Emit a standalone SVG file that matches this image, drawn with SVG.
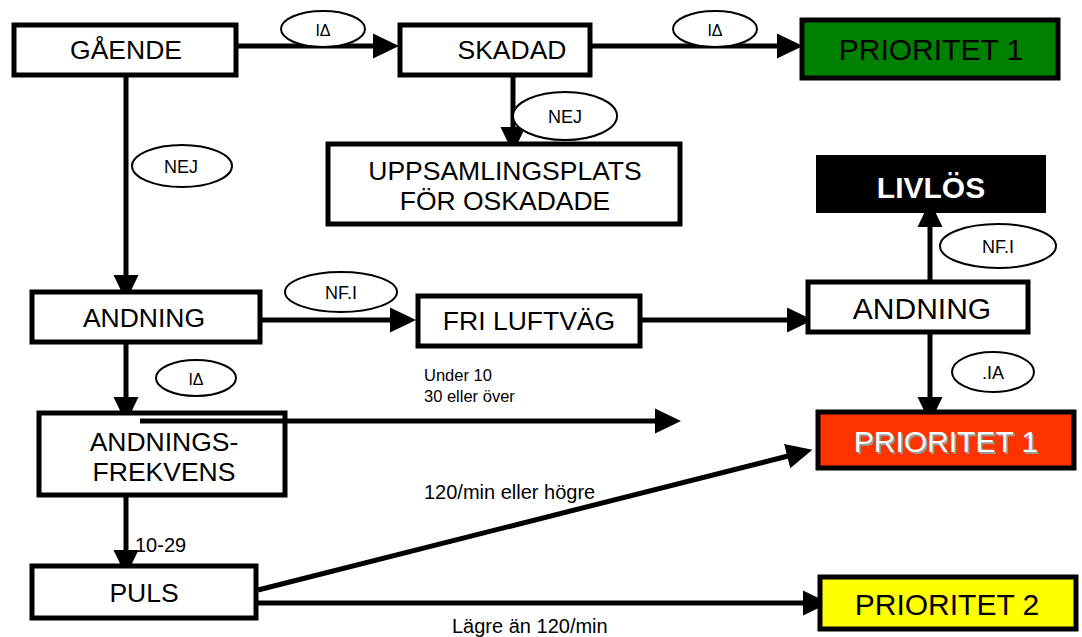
<svg xmlns="http://www.w3.org/2000/svg" width="1082" height="637" viewBox="0 0 1082 637">
<style>
.box{fill:#fff;stroke:#000;stroke-width:5}
.t{font-family:"Liberation Sans",Arial,sans-serif;font-size:26.5px;fill:#000;text-anchor:middle}
.p{font-size:30px}
.el{fill:#fff;stroke:#000;stroke-width:2}
.et{font-family:"Liberation Sans",Arial,sans-serif;font-size:18px;fill:#000;text-anchor:middle}
.lt{font-family:"Liberation Sans",Arial,sans-serif;font-size:16.5px;fill:#000}
.lb{font-family:"Liberation Sans",Arial,sans-serif;font-size:20px;fill:#000}
.c{stroke:#000;stroke-width:5;fill:none}
</style>
<defs>
<marker id="ah" markerWidth="6" markerHeight="6" refX="1" refY="3" orient="auto" markerUnits="strokeWidth"><path d="M0,0.5 L5.2,3 L0,5.5 z" fill="#000"/></marker>
</defs>
<g id="connectors">
<line class="c" x1="236" y1="46" x2="378" y2="46" marker-end="url(#ah)"/>
<line class="c" x1="590" y1="46" x2="782" y2="46" marker-end="url(#ah)"/>
<line class="c" x1="513" y1="75" x2="513" y2="132" marker-end="url(#ah)"/>
<line class="c" x1="126" y1="75" x2="126" y2="280" marker-end="url(#ah)"/>
<line class="c" x1="260" y1="320" x2="395" y2="320" marker-end="url(#ah)"/>
<line class="c" x1="640" y1="320" x2="792" y2="320" marker-end="url(#ah)"/>
<line class="c" x1="930" y1="280" x2="930" y2="222" marker-end="url(#ah)"/>
<line class="c" x1="930" y1="332" x2="930" y2="402" marker-end="url(#ah)"/>
<line class="c" x1="126" y1="342" x2="126" y2="402" marker-end="url(#ah)"/>
<line class="c" x1="126" y1="497" x2="126" y2="555" marker-end="url(#ah)"/>
<line class="c" x1="258" y1="590" x2="792" y2="455" marker-end="url(#ah)"/>
<line class="c" x1="258" y1="603" x2="808" y2="603" marker-end="url(#ah)"/>
<ellipse class="el" cx="323" cy="29" rx="42" ry="18"/>
<text class="et" x="323" y="36" style="font-size:16px">IΔ</text>
<ellipse class="el" cx="715" cy="29" rx="42" ry="18"/>
<text class="et" x="715" y="36" style="font-size:16px">IΔ</text>
<ellipse class="el" cx="565" cy="116" rx="52" ry="24"/>
<text class="et" x="565" y="123">NEJ</text>
<ellipse class="el" cx="182" cy="166" rx="50" ry="21"/>
<text class="et" x="181" y="173">NEJ</text>
<ellipse class="el" cx="341" cy="292" rx="56" ry="20"/>
<text class="et" x="341" y="299">NF.I</text>
<ellipse class="el" cx="998" cy="246" rx="58" ry="22"/>
<text class="et" x="998" y="253">NF.I</text>
<ellipse class="el" cx="993" cy="372" rx="41" ry="20"/>
<text class="et" x="993" y="379">.IA</text>
<ellipse class="el" cx="196" cy="378" rx="40" ry="18"/>
<text class="et" x="196" y="385" style="font-size:16px">IΔ</text>
<text class="lt" x="424" y="381">Under 10</text>
<text class="lt" x="424" y="402">30 eller över</text>
<text class="lb" x="135" y="552">10-29</text>
<text class="lb" x="424" y="499">120/min eller högre</text>
<text class="lb" x="452" y="633">Lägre än 120/min</text>
</g>
<g id="gaende"><rect class="box" x="14" y="25" width="222" height="50"/><text class="t" x="126" y="59">GÅENDE</text></g>
<g id="skadad"><rect class="box" x="400" y="25" width="190" height="50"/><text class="t" x="512" y="59">SKADAD</text></g>
<g id="prio1green"><rect x="802" y="20" width="256" height="58" fill="#008000" stroke="#000" stroke-width="5"/><text class="t p" x="931" y="60">PRIORITET 1</text></g>
<g id="uppsamling"><rect class="box" x="328" y="144" width="352" height="80"/><text class="t" x="505" y="180">UPPSAMLINGSPLATS</text><text class="t" x="505" y="210">FÖR OSKADADE</text></g>
<g id="livlos"><rect x="816" y="155" width="230" height="58" fill="#000"/><text class="t" x="931" y="198" style="font-size:30px;font-weight:bold;fill:#fff">LIVLÖS</text></g>
<g id="andning1"><rect class="box" x="32" y="292" width="228" height="50"/><text class="t" x="144" y="327">ANDNING</text></g>
<g id="friluftvag"><rect class="box" x="418" y="296" width="222" height="50"/><text class="t" x="529" y="330">FRI LUFTVÄG</text></g>
<g id="andning2"><rect class="box" x="808" y="282" width="220" height="50"/><text class="t p" x="922" y="319">ANDNING</text></g>
<g id="andningsfrekvens"><rect class="box" x="39" y="413" width="246" height="82"/><text class="t" x="164" y="451">ANDNINGS-</text><text class="t" x="164" y="481">FREKVENS</text></g>
<g id="prio1red"><rect x="818" y="412" width="256" height="56" fill="#ff3300" stroke="#000" stroke-width="5"/><text class="t p" x="948" y="454" style="fill:#999">PRIORITET 1</text><text class="t p" x="946" y="452" style="fill:#fff">PRIORITET 1</text></g>
<g id="puls"><rect class="box" x="32" y="566" width="224" height="52"/><text class="t" x="144" y="602">PULS</text></g>
<g id="prio2"><rect x="820" y="577" width="256" height="52" fill="#ffff00" stroke="#000" stroke-width="5"/><text class="t p" x="947" y="615">PRIORITET 2</text></g>
<g id="connector-overlay"><line class="c" x1="140" y1="421" x2="660" y2="421" marker-end="url(#ah)"/></g>
</svg>
